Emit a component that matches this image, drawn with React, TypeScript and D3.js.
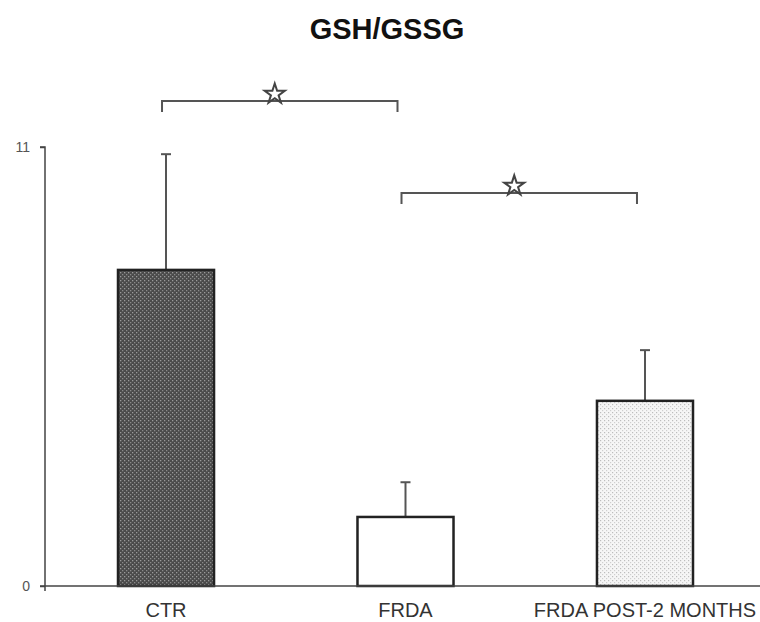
import React, { useRef, useEffect } from "react";
import * as d3 from "d3";

// values
const categories = ["CTR", "FRDA", "FRDA POST-2 MONTHS"];
const means = [7.92, 1.73, 4.64];
const errors = [2.9, 0.87, 1.27];
const fills = ["url(#darkCheck)", "#ffffff", "url(#lightDots)"];
const yTicks = [0, 11];
// significance pairs (indices into categories)
const brackets = [
  { from: 0, to: 1, level: 12.15 },
  { from: 1, to: 2, level: 9.85 },
];

const App = () => {
  const svgRef = useRef<SVGSVGElement>(null);

  useEffect(() => {
    const width = 760;
    const height = 622;
    const margin = { top: 147, bottom: 36, left: 45, right: 0 };

    const svg = d3.select(svgRef.current);
    svg.selectAll("*").remove();

    const defs = svg.append("defs");
    const dark = defs
      .append("pattern")
      .attr("id", "darkCheck")
      .attr("width", 4)
      .attr("height", 4)
      .attr("patternUnits", "userSpaceOnUse");
    dark.append("rect").attr("width", 4).attr("height", 4).attr("fill", "#4a4a4a");
    dark.append("rect").attr("x", 0).attr("y", 0).attr("width", 1.3).attr("height", 1.3).attr("fill", "#9a9a9a");
    dark.append("rect").attr("x", 2).attr("y", 2).attr("width", 1.3).attr("height", 1.3).attr("fill", "#8a8a8a");

    const light = defs
      .append("pattern")
      .attr("id", "lightDots")
      .attr("width", 4)
      .attr("height", 4)
      .attr("patternUnits", "userSpaceOnUse");
    light.append("rect").attr("width", 4).attr("height", 4).attr("fill", "#f6f6f6");
    light.append("rect").attr("x", 0).attr("y", 0).attr("width", 1.2).attr("height", 1.2).attr("fill", "#bdbdbd");
    light.append("rect").attr("x", 2).attr("y", 2).attr("width", 1.2).attr("height", 1.2).attr("fill", "#cfcfcf");

    const x = d3
      .scaleBand()
      .domain(categories)
      .range([118, 693])
      .paddingInner(0.599)
      .paddingOuter(0);

    const y = d3
      .scaleLinear()
      .domain([0, 11])
      .range([height - margin.bottom, margin.top]);

    // title
    svg
      .append("text")
      .attr("x", 387)
      .attr("y", 39)
      .attr("text-anchor", "middle")
      .style("font-family", "Liberation Sans, Arial, sans-serif")
      .style("font-weight", "bold")
      .style("font-size", "29px")
      .attr("fill", "#111")
      .text("GSH/GSSG");

    // error bars
    const errG = svg.append("g").attr("stroke", "#555").attr("stroke-width", 2);
    categories.forEach((c, i) => {
      const cx = x(c)! + x.bandwidth() / 2;
      errG
        .append("line")
        .attr("x1", cx)
        .attr("x2", cx)
        .attr("y1", y(means[i]))
        .attr("y2", y(means[i] + errors[i]));
      errG
        .append("line")
        .attr("x1", cx - 5)
        .attr("x2", cx + 5)
        .attr("y1", y(means[i] + errors[i]))
        .attr("y2", y(means[i] + errors[i]));
    });

    // bars
    svg
      .append("g")
      .selectAll("rect")
      .data(categories)
      .join("rect")
      .attr("x", (d) => x(d)!)
      .attr("y", (d, i) => y(means[i]))
      .attr("width", x.bandwidth())
      .attr("height", (d, i) => y(0) - y(means[i]))
      .attr("fill", (d, i) => fills[i])
      .attr("stroke", "#222")
      .attr("stroke-width", 2.5);

    // axes
    const yAxis = d3.axisLeft(y).tickValues(yTicks).tickSize(5).tickFormat(d3.format("d"));
    const yg = svg
      .append("g")
      .attr("transform", `translate(${margin.left},0)`)
      .call(yAxis);
    yg.select(".domain").attr("stroke", "#444").attr("stroke-width", 1.5).attr("d", `M-5,${y(11)}H0V${y(0) + 5}`);
    yg.selectAll(".tick line").attr("stroke", "#444").attr("stroke-width", 1.5);
    yg.selectAll(".tick text")
      .attr("x", -15)
      .style("font-family", "Liberation Sans, Arial, sans-serif")
      .style("font-size", "14px")
      .attr("fill", "#555");

    svg
      .append("line")
      .attr("x1", margin.left - 5)
      .attr("x2", width)
      .attr("y1", y(0))
      .attr("y2", y(0))
      .attr("stroke", "#444")
      .attr("stroke-width", 1.5);

    // category labels
    svg
      .append("g")
      .selectAll("text")
      .data(categories)
      .join("text")
      .attr("x", (d) => x(d)! + x.bandwidth() / 2)
      .attr("y", y(0) + 31)
      .attr("text-anchor", "middle")
      .style("font-family", "Liberation Sans, Arial, sans-serif")
      .style("font-size", "20px")
      .attr("fill", "#333")
      .text((d) => d);

    // significance brackets
    const star = d3.symbol().type(d3.symbolStar).size(125);
    brackets.forEach((b) => {
      const x1 = x(categories[b.from])! + x.bandwidth() / 2 - 4;
      const x2 = x(categories[b.to])! + x.bandwidth() / 2 - 8;
      const by = y(b.level);
      svg
        .append("path")
        .attr("d", `M${x1},${by + 11}V${by}H${x2}V${by + 11}`)
        .attr("fill", "none")
        .attr("stroke", "#555")
        .attr("stroke-width", 2);
      svg
        .append("path")
        .attr("d", star()!)
        .attr("transform", `translate(${(x1 + x2) / 2 - 5},${by - 7})`)
        .attr("fill", "#fff")
        .attr("stroke", "#444")
        .attr("stroke-width", 2);
    });
  }, []);

  return (
    <svg
      ref={svgRef}
      width={760}
      height={622}
      style={{ position: "absolute", left: 0, top: 0, background: "#fff" }}
    />
  );
};

export default App;
